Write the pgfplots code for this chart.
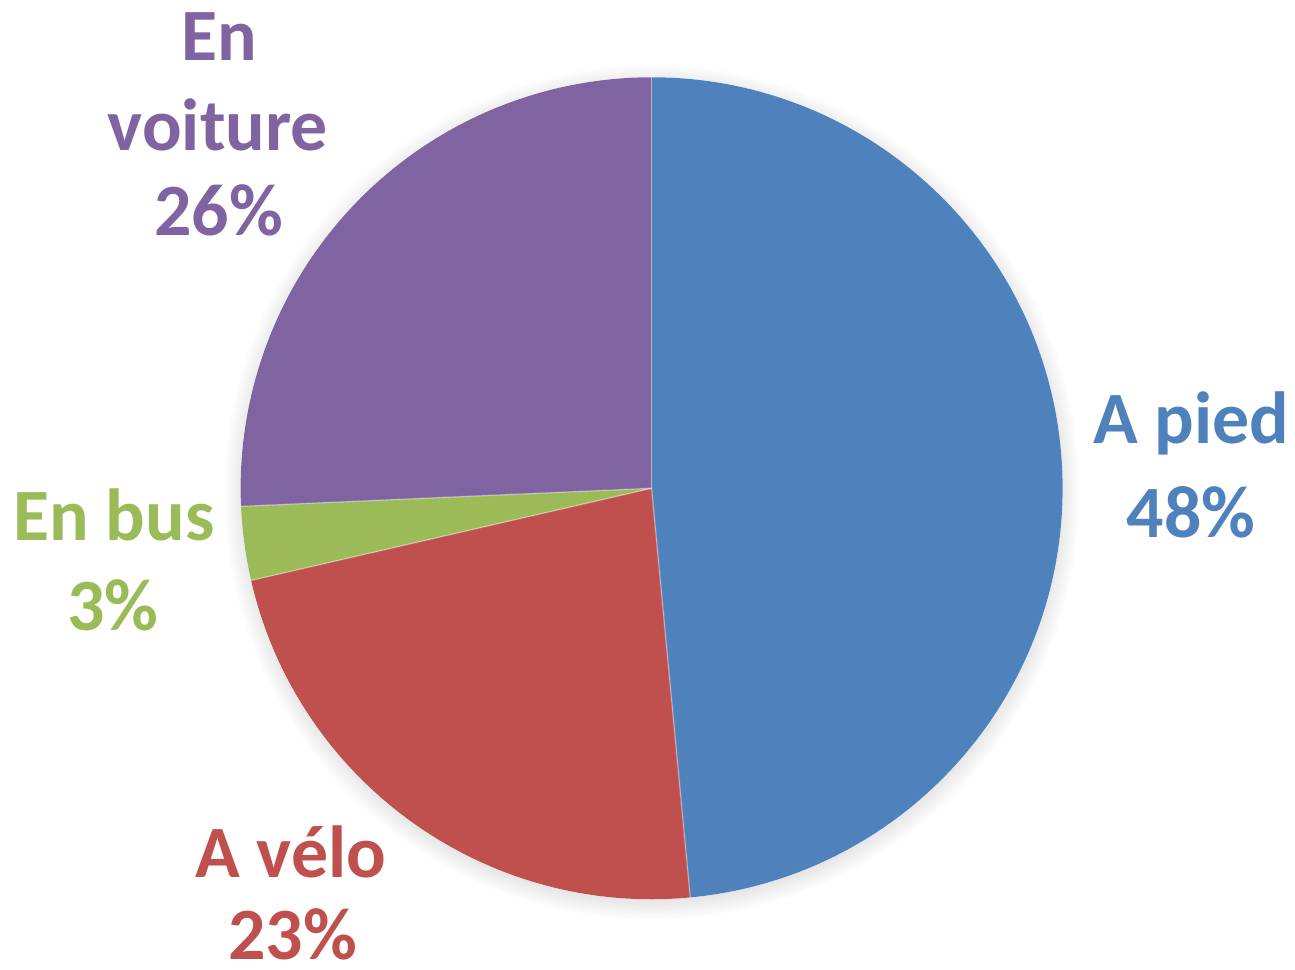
\documentclass[border=0pt]{standalone}
\usepackage{pgfplots}
\pgfplotsset{compat=1.18}
\usepackage{pgfplotstable}
\usepackage{fontspec}
\setmainfont{Carlito}
\usetikzlibrary{shadows}
\definecolor{cpied}{HTML}{4F81BD}
\definecolor{cvelo}{HTML}{C0504D}
\definecolor{cbus}{HTML}{9BBB59}
\definecolor{cvoit}{HTML}{8064A2}
\tikzset{lab/.style={font=\fontsize{21}{26}\selectfont\bfseries, anchor=base, inner sep=0pt}}
\pgfplotstableread{
label pct
pied 48.5
velo 22.9
bus 2.9
voiture 25.7
}\piedata
\pgfplotstablegetelem{0}{pct}\of\piedata\let\pA\pgfplotsretval
\pgfplotstablegetelem{1}{pct}\of\piedata\let\pB\pgfplotsretval
\pgfplotstablegetelem{2}{pct}\of\piedata\let\pC\pgfplotsretval
\pgfplotstablegetelem{3}{pct}\of\piedata\let\pD\pgfplotsretval
\pgfmathsetmacro\aA{90-3.6*\pA}%
\pgfmathsetmacro\aB{\aA-3.6*\pB}%
\pgfmathsetmacro\aC{\aB-3.6*\pC}%
\pgfmathsetmacro\aD{\aC-3.6*\pD}%
\begin{document}
\begin{tikzpicture}
\begin{axis}[
  at={(0,0)}, anchor=origin,
  x=0.01cm, y=0.01cm,
  xmin=0, xmax=1295, ymin=0, ymax=970,
  hide axis, clip=false,
]
\fill[white, circular drop shadow={shadow xshift=0pt, shadow yshift=-1pt, shadow scale=1.04, opacity=0.6}] (axis cs:652,482) circle[radius=4.11cm];
\fill[cpied] (axis cs:652,482) -- ++(90:4.11cm) arc[start angle=90, end angle=\aA, radius=4.11cm] -- cycle;
\fill[cvelo] (axis cs:652,482) -- ++(\aA:4.11cm) arc[start angle=\aA, end angle=\aB, radius=4.11cm] -- cycle;
\fill[cbus] (axis cs:652,482) -- ++(\aB:4.11cm) arc[start angle=\aB, end angle=\aC, radius=4.11cm] -- cycle;
\fill[cvoit] (axis cs:652,482) -- ++(\aC:4.11cm) arc[start angle=\aC, end angle=\aD, radius=4.11cm] -- cycle;
\draw[white, opacity=0.35, line width=0.4pt] (axis cs:652,482) -- ++(90:4.11cm);
\draw[white, opacity=0.35, line width=0.4pt] (axis cs:652,482) -- ++(\aA:4.11cm);
\draw[white, opacity=0.35, line width=0.4pt] (axis cs:652,482) -- ++(\aB:4.11cm);
\draw[white, opacity=0.35, line width=0.4pt] (axis cs:652,482) -- ++(\aC:4.11cm);
\node[lab, text=cpied] at (axis cs:1192,527) {A pied};
\node[lab, text=cpied] at (axis cs:1192,433) {48\%};
\node[lab, text=cvelo] at (axis cs:291,93) {A vélo};
\node[lab, text=cvelo] at (axis cs:293,10) {23\%};
\node[lab, text=cbus] at (axis cs:114,430) {En bus};
\node[lab, text=cbus] at (axis cs:113,340) {3\%};
\node[lab, text=cvoit] at (axis cs:219,910) {En};
\node[lab, text=cvoit] at (axis cs:218,820) {voiture};
\node[lab, text=cvoit] at (axis cs:219,735) {26\%};
\end{axis}
\pgfresetboundingbox
\path[use as bounding box] (0,0) rectangle (12.95cm,9.70cm);
\end{tikzpicture}
\end{document}
